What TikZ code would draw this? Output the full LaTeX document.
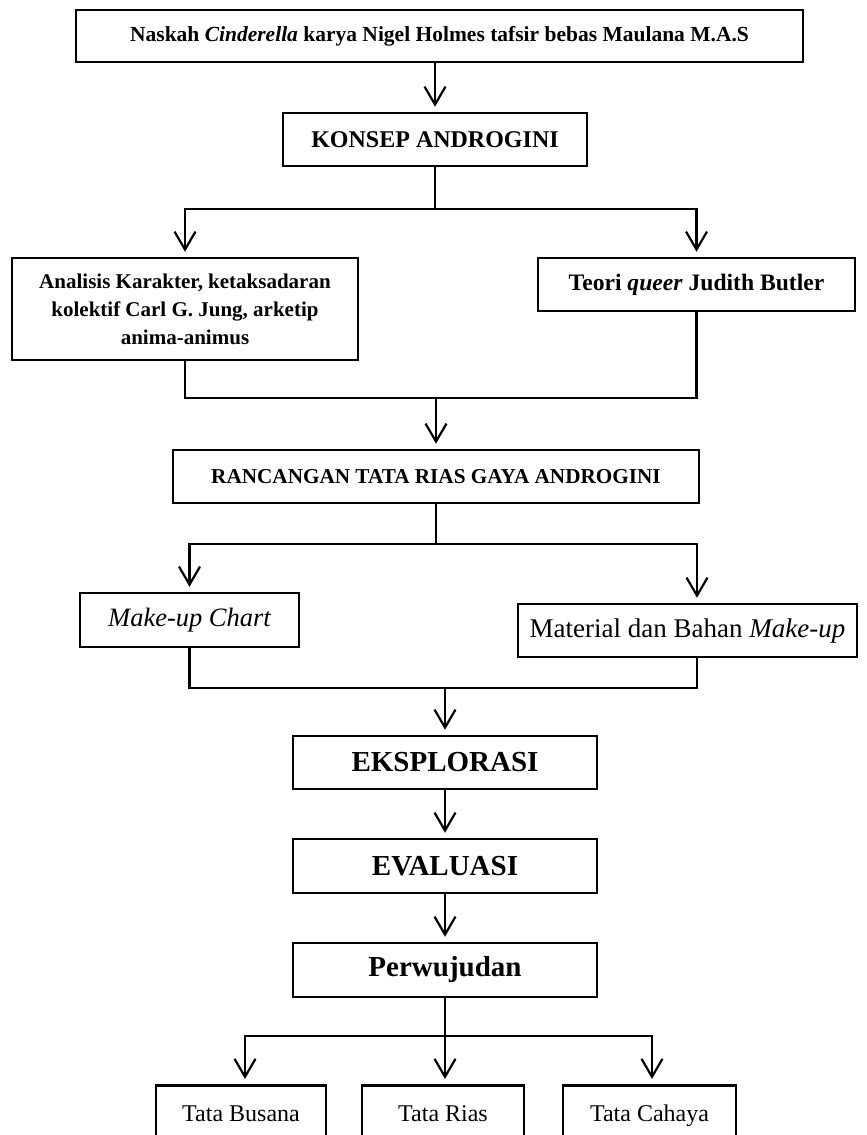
\documentclass[tikz,border=0pt]{standalone}
\usepackage{fontspec}
\setmainfont{Liberation Serif}
\usetikzlibrary{arrows.meta}
\begin{document}
\begin{tikzpicture}[x=1pt,y=-1pt,
  box/.style={draw=black,line width=2.5pt,inner sep=0pt,align=center},
  ln/.style={line width=2.2pt},
  arr/.style={line width=2.2pt,shorten >=5pt,-{Straight Barb[length=18pt,width=21pt,line width=2.2pt]}},
  fb/.style={font=\fontsize{#1}{#1}\selectfont\bfseries},
  fr/.style={font=\fontsize{#1}{#1}\selectfont},
]
\useasboundingbox[fill=white] (0,0) rectangle (867,1135);

\node[box,fb=21.5,minimum width=727,minimum height=52] (b1) at (439.5,36)
  {Naskah \textit{Cinderella} karya Nigel Holmes tafsir bebas Maulana M.A.S};
\node[box,fb=24,minimum width=304,minimum height=53] (b2) at (435,139.5)
  {KONSEP ANDROGINI};
\node[box,font=\fontsize{21}{28}\selectfont\bfseries,minimum width=346,minimum height=102] (an) at (185,309)
  {Analisis Karakter, ketaksadaran\\kolektif Carl G. Jung, arketip\\anima-animus};
\node[box,fb=23.6,minimum width=317,minimum height=53] (te) at (696.5,284.5)
  {Teori \textit{queer} Judith Butler};
\node[box,fb=21.2,minimum width=526,minimum height=53] (b3) at (436,476.5)
  {RANCANGAN TATA RIAS GAYA ANDROGINI};
\node[box,font=\fontsize{26.5}{26.5}\selectfont\itshape,minimum width=219,minimum height=54] (mk) at (189.5,620)
  {Make-up Chart};
\node[box,fr=27,minimum width=339,minimum height=53] (ma) at (687.5,630.5)
  {Material dan Bahan \textit{Make-up}};
\node[box,fb=29,minimum width=304,minimum height=53] (ek) at (445,762.5)
  {EKSPLORASI};
\node[box,fb=29,minimum width=304,minimum height=54] (ev) at (445,866)
  {EVALUASI};
\node[box,fb=29,minimum width=304,minimum height=54] (pw) at (445,970)
  {Perwujudan};
\node[box,fr=24,anchor=north,minimum width=170,text height=36pt,text depth=40pt] (tb) at (241,1084)
  {Tata Busana};
\node[box,fr=24,anchor=north,minimum width=162,text height=36pt,text depth=40pt] (tr) at (443,1084)
  {Tata Rias};
\node[box,fr=24,anchor=north,minimum width=173,text height=36pt,text depth=40pt] (tc) at (649.5,1084)
  {Tata Cahaya};

% connectors
\draw[arr] (b2.north |- b1.south) -- (b2.north);
\coordinate (s1) at (b2.south |- 0,209);
\draw[ln] (b2.south) -- (s1);
\draw[arr] (s1) -| (an.north);
\draw[arr] (s1) -| (te.north);
\coordinate (j1) at (b3.north |- 0,398);
\draw[ln] (an.south) |- (j1) -| (te.south);
\draw[arr] (j1) -- (b3.north);
\coordinate (s2) at (b3.south |- 0,544);
\draw[ln] (b3.south) -- (s2);
\draw[arr] (s2) -| (mk.north);
\draw[arr] (s2) -| ([xshift=9.5pt]ma.north);
\coordinate (j2) at (ek.north |- 0,688);
\draw[ln] (mk.south) |- (j2) -| ([xshift=9.5pt]ma.south);
\draw[arr] (j2) -- (ek.north);
\draw[arr] (ek.south) -- (ev.north);
\draw[arr] (ev.south) -- (pw.north);
\coordinate (s3) at (pw.south |- 0,1036);
\draw[ln] (pw.south) -- (s3);
\draw[arr] (s3) -| ([xshift=4pt]tb.north);
\draw[arr] (s3) -- (s3 |- tr.north);
\draw[arr] (s3) -| ([xshift=2.5pt]tc.north);
\end{tikzpicture}
\end{document}
